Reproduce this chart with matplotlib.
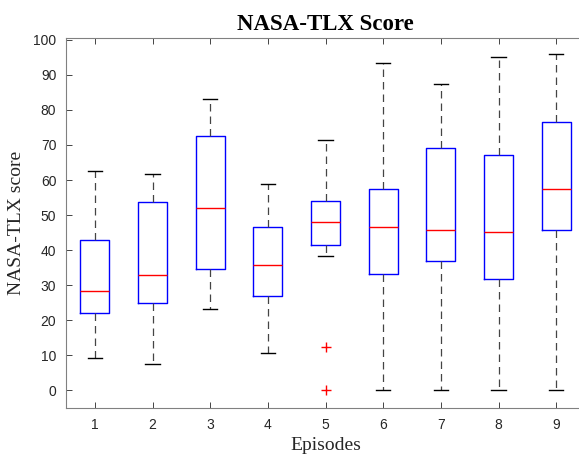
import matplotlib
matplotlib.use("Agg")
import matplotlib.pyplot as plt

episodes = [1, 2, 3, 4, 5, 6, 7, 8, 9]
whisker_low = [9.2, 7.5, 23.3, 10.8, 38.3, 0, 0, 0, 0]
q1 = [22.1, 25.0, 34.6, 27.0, 41.6, 33.3, 36.8, 31.8, 45.8]
median = [28.3, 33.0, 52.0, 35.7, 48.0, 46.6, 45.8, 45.3, 57.5]
q3 = [43.0, 53.7, 72.5, 46.7, 54.0, 57.5, 69.1, 67.0, 76.6]
whisker_high = [62.5, 61.6, 83.2, 59.0, 71.5, 93.4, 87.5, 95.0, 95.8]
outliers = [[], [], [], [], [12.5, 0.0], [], [], [], []]

stats = []
for i in range(len(episodes)):
    stats.append(dict(med=median[i], q1=q1[i], q3=q3[i],
                      whislo=whisker_low[i], whishi=whisker_high[i],
                      fliers=outliers[i], label=str(episodes[i])))

fig = plt.figure(figsize=(5.79, 4.55), dpi=100)
ax = fig.add_axes([66/579, 47/455, 519/579, 370/455])

ax.bxp(stats, positions=episodes, widths=0.5,
       boxprops=dict(color='blue', linewidth=1.0),
       medianprops=dict(color='red', linewidth=1.0),
       whiskerprops=dict(color='#444444', linestyle=(0, (6, 4)), linewidth=0.9),
       capprops=dict(color='black', linewidth=1.0),
       flierprops=dict(marker='+', markeredgecolor='red', markersize=7, linestyle='none'))

ax.set_xlim(0.5, 9.5)
ax.set_ylim(-5, 100.5)
ax.set_yticks(range(0, 101, 10))
ax.set_xticks(episodes)
ax.set_xticklabels([str(e) for e in episodes])
ax.tick_params(direction='in', top=True, right=False, length=4, width=0.6,
               colors='#262626', labelsize=10, pad=7)
for lbl in ax.get_xticklabels() + ax.get_yticklabels():
    lbl.set_family('Liberation Sans')
for s in ax.spines.values():
    s.set_color('#808080')
    s.set_linewidth(0.8)
ax.spines['right'].set_visible(False)

ax.set_title('NASA-TLX Score', family='Liberation Serif', fontweight='bold', fontsize=16.5, pad=6)
ax.set_xlabel('Episodes', family='Liberation Serif', fontsize=14, labelpad=4, color='#262626')
ax.set_ylabel('NASA-TLX score', family='Liberation Serif', fontsize=14, labelpad=6, color='#262626')

plt.savefig('out.png', dpi=100)
